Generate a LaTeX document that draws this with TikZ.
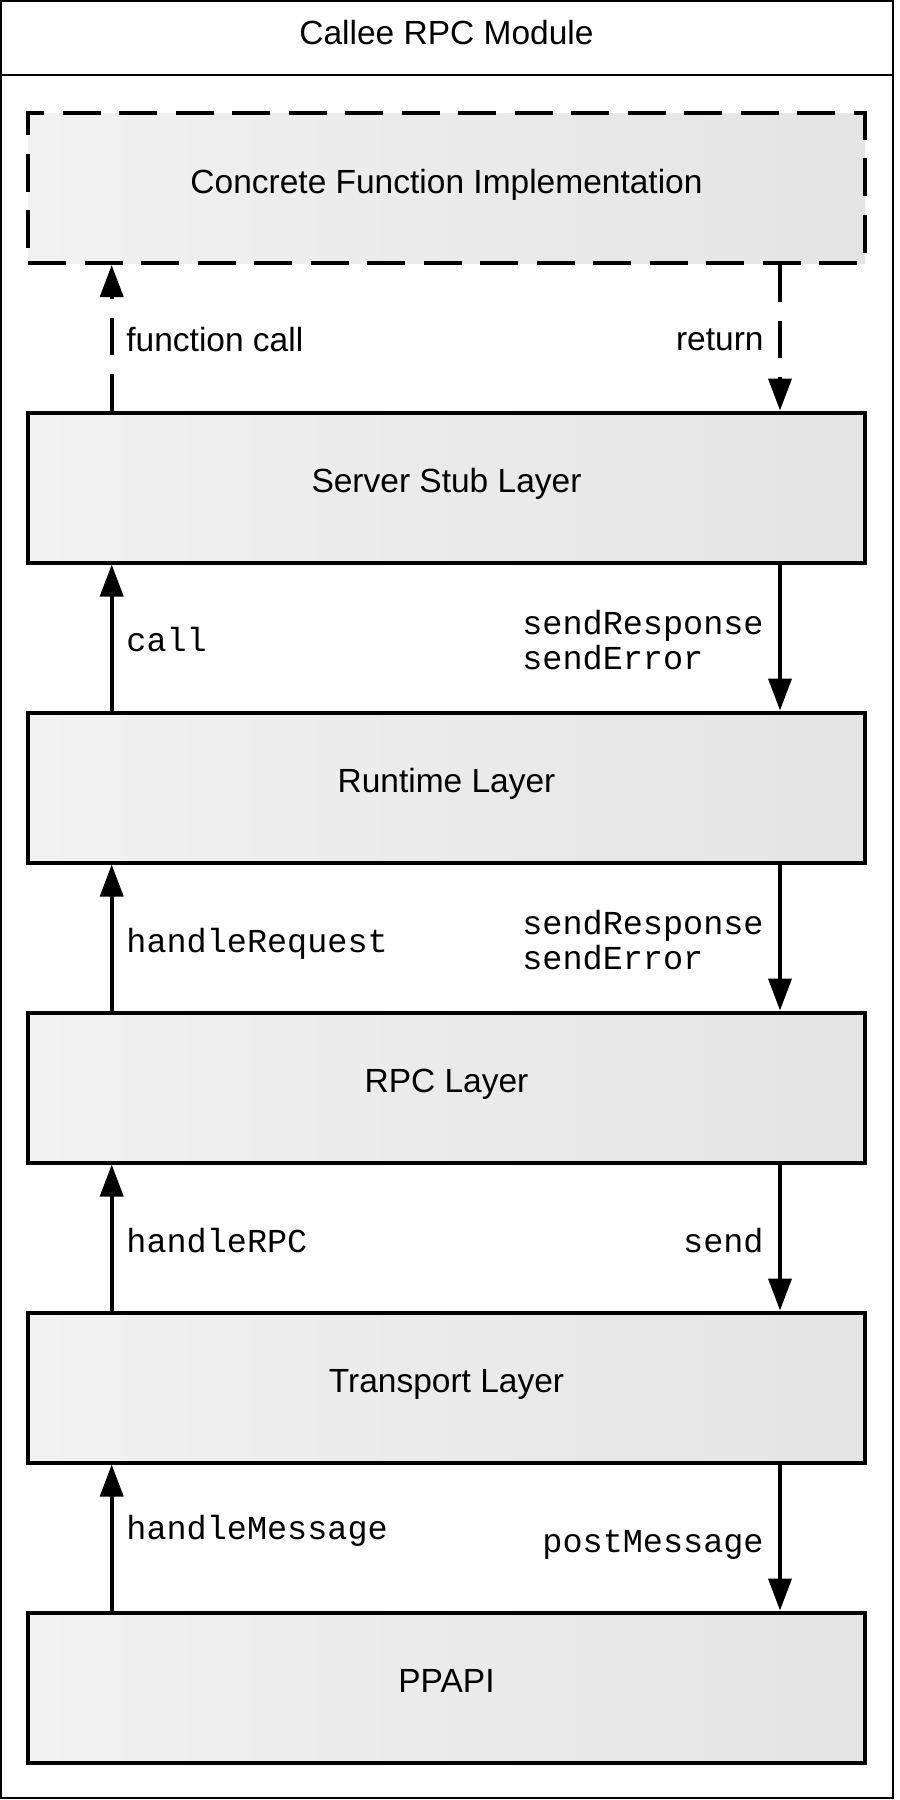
\documentclass[tikz,border=0pt]{standalone}
\usepackage{fontspec}
\setmainfont{Liberation Sans}
\setmonofont{Liberation Mono}
\usetikzlibrary{arrows.meta}
\definecolor{lgrey}{RGB}{241,241,241}
\definecolor{rgrey}{RGB}{228,228,228}
\begin{document}
\begin{tikzpicture}[x=0.5pt,y=-0.5pt,
  layer/.style={draw=black, line width=2pt, left color=lgrey, right color=rgrey,
    minimum width=418.5pt, minimum height=75pt, inner sep=0pt,
    text height=10.3pt, text depth=5pt,
    font=\fontsize{16.75}{20}\selectfont},
  conn/.style={line width=1.9pt, -{Triangle[length=16pt,width=11.5pt]}},
  dconn/.style={conn, dash pattern=on 18.5pt off 9.5pt},
  lab/.style={font=\fontsize{16.75}{20}\selectfont, inner sep=0pt},
  mlab/.style={font=\ttfamily\fontsize{16.75}{17.5}\selectfont, inner sep=0pt, text height=12.2pt, text depth=0pt},
  mlab2/.style={font=\ttfamily\fontsize{16.75}{17.5}\selectfont, inner sep=0pt, align=left}]
\useasboundingbox (0,0) rectangle (900,1800);
% frame
\node[draw, line width=0.85pt, minimum width=446.25pt, minimum height=898.8pt, inner sep=0pt] (frame) at (447.05,899.5) {};
\draw[line width=0.85pt] (frame.west |- 0,75) -- (frame.east |- 0,75);
\node[lab] (title) at (446.5,33) {Callee RPC Module};
% boxes
\node[layer, dash pattern=on 19pt off 9.25pt] (impl) at (446.5,188) {Concrete Function Implementation};
\node[layer] (stub) at (446.5,487.5) {Server Stub Layer};
\node[layer] (runtime) at (446.5,787.5) {Runtime Layer};
\node[layer] (rpc) at (446.5,1087.5) {RPC Layer};
\node[layer] (transport) at (446.5,1387.5) {Transport Layer};
\node[layer] (ppapi) at (446.5,1687.5) {PPAPI};
% arrow columns
\coordinate (lx) at (111.7,0);
\coordinate (rx) at (780,0);
% dashed arrows
\draw[dconn] (stub.north -| lx) -- (impl.south -| lx);
\draw[dconn] (impl.south -| rx) -- (stub.north -| rx);
\draw[conn] (runtime.north -| lx) -- (stub.south -| lx);
\draw[conn] (stub.south -| rx) -- (runtime.north -| rx);
\draw[conn] (rpc.north -| lx) -- (runtime.south -| lx);
\draw[conn] (runtime.south -| rx) -- (rpc.north -| rx);
\draw[conn] (transport.north -| lx) -- (rpc.south -| lx);
\draw[conn] (rpc.south -| rx) -- (transport.north -| rx);
\draw[conn] (ppapi.north -| lx) -- (transport.south -| lx);
\draw[conn] (transport.south -| rx) -- (ppapi.north -| rx);
% labels
\node[lab, anchor=west] (lfc) at (126,340) {function call};
\node[lab, anchor=east] (lret) at (764,340) {return};
\node[mlab, anchor=west] (lcall) at (126,639) {call};
\node[mlab2, anchor=east] (lsr1) at (764,640) {sendResponse\\sendError};
\node[mlab, anchor=west] (lhr) at (126,940) {handleRequest};
\node[mlab2, anchor=east] (lsr2) at (764,940) {sendResponse\\sendError};
\node[mlab, anchor=west] (lrpc) at (126,1240) {handleRPC};
\node[mlab, anchor=east] (lsend) at (764,1240) {send};
\node[mlab, anchor=west] (lhm) at (126,1527) {handleMessage};
\node[mlab, anchor=east] (lpm) at (764,1540) {postMessage};
\end{tikzpicture}
\end{document}
